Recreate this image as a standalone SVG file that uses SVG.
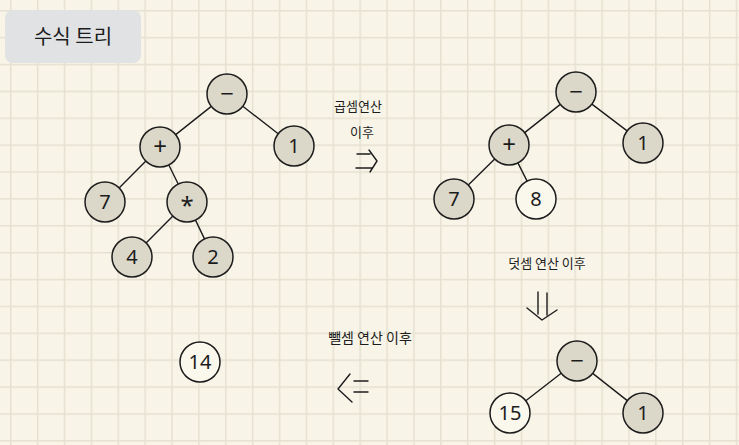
<svg xmlns="http://www.w3.org/2000/svg" width="739" height="445" viewBox="0 0 739 445">
<defs>
<pattern id="grid" patternUnits="userSpaceOnUse" x="10" y="10" width="26.88" height="26.88">
<rect x="0" y="0" width="1.5" height="26.88" fill="#e5e0cf"/>
<rect x="0" y="0" width="26.88" height="1.5" fill="#e5e0cf"/>
</pattern>
</defs>
<style>
.n circle{stroke:#1c1c1c;stroke-width:1.5;fill:#dbd8ca}
.n.w circle{fill:#faf7ec}
.n text{font-family:"Noto Sans","DejaVu Sans",sans-serif;font-size:20px;fill:#1c1c1c;text-anchor:middle}
.n text.op{font-size:24px}
.e line,.e path{stroke:#1c1c1c;stroke-width:1.4;fill:none;stroke-linecap:round;stroke-linejoin:round}
.lbl{font-family:"Noto Sans CJK KR","Noto Sans",sans-serif;fill:#1c1c1c;text-anchor:middle}
</style>
<rect width="739" height="445" fill="#f8f5e8"/>
<rect width="739" height="445" fill="url(#grid)"/>
<g id="title">
<rect x="5" y="10" width="136" height="53" rx="8" fill="#e0e2e4"/>
<text x="73" y="44" class="lbl" font-size="20">수식 트리</text>
</g>
<g id="connectors" class="e">
<line x1="211.3" y1="106.4" x2="175.7" y2="134.6"/>
<line x1="242.8" y1="106.3" x2="278.2" y2="133.7"/>
<line x1="145.9" y1="161.1" x2="119.1" y2="187.9"/>
<line x1="168.8" y1="165" x2="178.2" y2="184"/>
<line x1="172.9" y1="216.1" x2="146.1" y2="242.9"/>
<line x1="195.5" y1="220.1" x2="204.5" y2="238.9"/>
<line x1="560.3" y1="104.4" x2="524.7" y2="132.6"/>
<line x1="591.9" y1="104.1" x2="627.1" y2="130.9"/>
<line x1="494.7" y1="159" x2="468.3" y2="185"/>
<line x1="517.9" y1="162.9" x2="527.1" y2="181.1"/>
<line x1="561.2" y1="373.3" x2="525.8" y2="400.7"/>
<line x1="592.7" y1="373.4" x2="627.3" y2="400.6"/>
<path d="M357 154H370M356 168H372M369 150L377 161L370 172"/>
<path d="M538 292V314M547 293V315M527 308L542 320L557 310"/>
<path d="M350 374L338 389L352 402M354 381H368M354 392H368"/>
</g>
<g id="labels">
<text x="358" y="111" class="lbl" font-size="13">곱셈연산</text>
<text x="362" y="137" class="lbl" font-size="13">이후</text>
<text x="547" y="268" class="lbl" font-size="13">덧셈 연산 이후</text>
<text x="370" y="343" class="lbl" font-size="14">뺄셈 연산 이후</text>
</g>
<g id="t1-minus" class="n"><circle cx="227" cy="94" r="20"/><text class="op" x="227" y="102">−</text></g>
<g id="t1-plus" class="n"><circle cx="160" cy="147" r="20"/><text class="op" x="160" y="155">+</text></g>
<g id="t1-one" class="n"><circle cx="294" cy="146" r="20"/><text x="294" y="153">1</text></g>
<g id="t1-seven" class="n"><circle cx="105" cy="202" r="20"/><text x="105" y="209">7</text></g>
<g id="t1-times" class="n"><circle cx="187" cy="202" r="20"/><text class="op" x="187" y="214">*</text></g>
<g id="t1-four" class="n"><circle cx="132" cy="257" r="20"/><text x="132" y="264">4</text></g>
<g id="t1-two" class="n"><circle cx="213" cy="257" r="20"/><text x="213" y="264">2</text></g>
<g id="t2-minus" class="n"><circle cx="576" cy="92" r="20"/><text class="op" x="576" y="100">−</text></g>
<g id="t2-plus" class="n"><circle cx="509" cy="145" r="20"/><text class="op" x="509" y="153">+</text></g>
<g id="t2-one" class="n"><circle cx="643" cy="143" r="20"/><text x="643" y="150">1</text></g>
<g id="t2-seven" class="n"><circle cx="454" cy="199" r="20"/><text x="454" y="206">7</text></g>
<g id="t2-eight" class="n w"><circle cx="536" cy="199" r="20"/><text x="536" y="206">8</text></g>
<g id="t3-minus" class="n"><circle cx="577" cy="361" r="20"/><text class="op" x="577" y="369">−</text></g>
<g id="t3-fifteen" class="n w"><circle cx="510" cy="413" r="20"/><text x="510" y="420">15</text></g>
<g id="t3-one" class="n"><circle cx="643" cy="413" r="20"/><text x="643" y="420">1</text></g>
<g id="result" class="n w"><circle cx="200" cy="362" r="20"/><text x="200" y="369">14</text></g>
</svg>
